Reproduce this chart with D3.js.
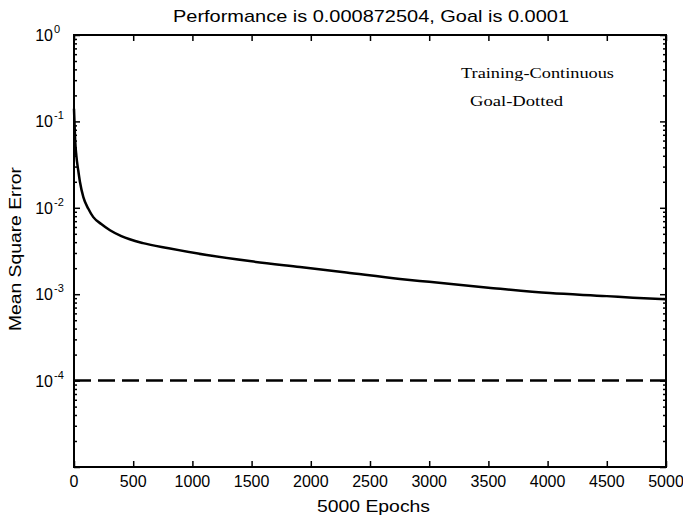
<!DOCTYPE html>
<html><head><meta charset="utf-8">
<script src="https://cdn.jsdelivr.net/npm/d3@7"></script>
<style>body{margin:0;background:#fff}svg{display:block}</style>
</head><body>
<svg id="c" width="683" height="518"></svg>
<script>
const epochs = [0, 5, 10, 20, 36, 50, 79, 120, 163, 230, 304, 400, 583, 800, 1121, 1500, 1909, 2300, 2753, 3000, 3500, 4020, 4500, 4721, 5000];
const mse = [0.14, 0.09, 0.06, 0.04, 0.027, 0.02, 0.0133, 0.0098, 0.0078, 0.0065, 0.0055, 0.0047, 0.0039, 0.0034, 0.00284, 0.0024, 0.00206, 0.00178, 0.0015, 0.00139, 0.00119, 0.00103, 0.00095, 0.00091, 0.000873];
const goal = 0.0001;
const xTicks = [0, 500, 1000, 1500, 2000, 2500, 3000, 3500, 4000, 4500, 5000];
const yDecades = [1e-5, 1e-4, 1e-3, 1e-2, 1e-1, 1];
const yLabelExps = [0, -1, -2, -3, -4];
const titleText = "Performance is 0.000872504, Goal is 0.0001";
const xLabel = "5000 Epochs";
const yLabel = "Mean Square Error";
const legendLines = ["Training-Continuous", "Goal-Dotted"];

const svg = d3.select("#c");
const L = 74, R = 666, T = 35, B = 467;
const x = d3.scaleLinear().domain([0, 5000]).range([L, R]);
const y = d3.scaleLog().domain([1e-5, 1]).range([B, T]);
const font = "'Liberation Sans', Arial, sans-serif";

const minors = [];
for (let e = -5; e < 0; e++) for (let k = 2; k <= 9; k++) minors.push(k * Math.pow(10, e));

function styleAxis(g) {
  g.select(".domain").remove();
  g.selectAll(".tick line").attr("stroke", "#000").attr("stroke-width", 1.5);
  g.selectAll(".tick text").remove();
}
// x axes
svg.append("g").attr("transform", `translate(0,${B})`)
  .call(d3.axisBottom(x).tickValues(xTicks).tickSize(-6).tickFormat("")).call(styleAxis);
svg.append("g").attr("transform", `translate(0,${T})`)
  .call(d3.axisTop(x).tickValues(xTicks).tickSize(-6).tickFormat("")).call(styleAxis);
// y axes
[[d3.axisLeft, L], [d3.axisRight, R]].forEach(([ax, px]) => {
  svg.append("g").attr("transform", `translate(${px},0)`)
    .call(ax(y).tickValues(yDecades).tickSize(-6).tickFormat("")).call(styleAxis);
  svg.append("g").attr("transform", `translate(${px},0)`)
    .call(ax(y).tickValues(minors).tickSize(-3).tickFormat("")).call(styleAxis);
});
// frame
svg.append("rect").attr("x", L).attr("y", T).attr("width", R - L).attr("height", B - T)
  .attr("fill", "none").attr("stroke", "#000").attr("stroke-width", 2);

// x tick labels
svg.append("g").selectAll("text").data(xTicks).join("text")
  .attr("x", d => x(d)).attr("y", B + 20).attr("text-anchor", "middle")
  .attr("font-family", font).attr("font-size", 16).text(d => d);
// y tick labels
svg.append("g").selectAll("text").data(yLabelExps).join("text")
  .attr("x", 53).attr("y", d => y(Math.pow(10, d)) + 6).attr("text-anchor", "end")
  .attr("font-family", font).attr("font-size", 16).text("10");
svg.append("g").selectAll("text").data(yLabelExps).join("text")
  .attr("x", 54).attr("y", d => y(Math.pow(10, d)) - 2).attr("text-anchor", "start")
  .attr("font-family", font).attr("font-size", 11).text(d => d);

// title & labels
svg.append("text").attr("x", 173).attr("y", 22)
  .attr("font-family", font).attr("font-size", 17)
  .attr("textLength", 396).attr("lengthAdjust", "spacingAndGlyphs").text(titleText);
svg.append("text").attr("x", 317).attr("y", 512)
  .attr("font-family", font).attr("font-size", 16)
  .attr("textLength", 113).attr("lengthAdjust", "spacingAndGlyphs").text(xLabel);
svg.append("text").attr("transform", `translate(21,${(T + B) / 2 - 2}) rotate(-90)`)
  .attr("x", -82).attr("font-family", font).attr("font-size", 17)
  .attr("textLength", 164).attr("lengthAdjust", "spacingAndGlyphs").text(yLabel);

// legend texts
const serif = "'Liberation Serif', 'Times New Roman', serif";
svg.append("text").attr("x", 461).attr("y", 78).attr("font-family", serif).attr("font-size", 15)
  .attr("textLength", 153).attr("lengthAdjust", "spacingAndGlyphs").text(legendLines[0]);
svg.append("text").attr("x", 470).attr("y", 106).attr("font-family", serif).attr("font-size", 15)
  .attr("textLength", 93).attr("lengthAdjust", "spacingAndGlyphs").text(legendLines[1]);

// goal line
svg.append("line").attr("x1", x(0)).attr("x2", x(5000)).attr("y1", y(goal)).attr("y2", y(goal))
  .attr("stroke", "#000").attr("stroke-width", 2.5).attr("stroke-dasharray", "17,7");
// training curve
const line = d3.line().x((d, i) => x(epochs[i])).y(d => y(d)).curve(d3.curveMonotoneX);
svg.append("path").datum(mse).attr("d", line).attr("fill", "none")
  .attr("stroke", "#000").attr("stroke-width", 2.5);
</script>
</body></html>
